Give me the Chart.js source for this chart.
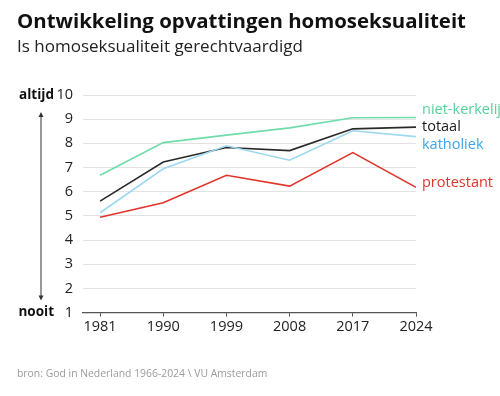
<!DOCTYPE html>
<html>
<head>
<meta charset="utf-8">
<script src="https://cdn.jsdelivr.net/npm/chart.js@4"></script>
<style>
  html, body { margin: 0; padding: 0; background: #fff; }
  #wrap { width: 500px; height: 396px; position: relative; }
</style>
</head>
<body>
<div id="wrap"><canvas id="chart"></canvas></div>
<script>
// data
const years = ['1981', '1990', '1999', '2008', '2017', '2024'];
const nietKerkelijk = [6.68, 8.03, 8.34, 8.64, 9.06, 9.07];
const totaal = [5.61, 7.23, 7.83, 7.70, 8.60, 8.67];
const katholiek = [5.13, 6.95, 7.90, 7.30, 8.52, 8.28];
const protestant = [4.94, 5.54, 6.68, 6.23, 7.62, 6.18];
const seriesNames = ['niet-kerkelijk', 'totaal', 'katholiek', 'protestant'];
const yTicks = [1, 2, 3, 4, 5, 6, 7, 8, 9, 10];

const FONT = '"Open Sans", "Noto Sans", sans-serif';

function points(arr) {
    return arr.map((v, i) => ({ x: i, y: v }));
}

// line colour, label colour, label shift (px)
const looks = [
    { line: '#6fdcaa', text: '#55d09b', dy: -8 },
    { line: '#2a2a2a', text: '#1a1a1a', dy: 0 },
    { line: '#9cd8f0', text: '#3ea6e6', dy: 8 },
    { line: '#e0352b', text: '#e0352b', dy: -4 }
];

const allSeries = [nietKerkelijk, totaal, katholiek, protestant];

const extras = {
    id: 'extras',
    afterDraw(chart) {
        const ctx = chart.ctx;
        const y = chart.scales.y;
        const area = chart.chartArea;
        ctx.save();
        ctx.textBaseline = 'middle';
        ctx.textAlign = 'left';

        // titles
        ctx.fillStyle = '#111';
        ctx.font = 'bold 20.4px ' + FONT;
        ctx.fillText('Ontwikkeling opvattingen homoseksualiteit', 17, 22);
        ctx.fillStyle = '#222';
        ctx.font = '17px ' + FONT;
        ctx.fillText('Is homoseksualiteit gerechtvaardigd', 17, 47);

        // footer
        ctx.fillStyle = '#9a9a9a';
        ctx.font = '10.4px ' + FONT;
        ctx.fillText('bron: God in Nederland 1966-2024 \\ VU Amsterdam', 17, 374);

        // series labels at the end of each line
        ctx.font = '14.5px ' + FONT;
        allSeries.forEach((arr, i) => {
            const last = arr[arr.length - 1];
            ctx.fillStyle = looks[i].text;
            ctx.fillText(seriesNames[i], area.right + 6, y.getPixelForValue(last) + looks[i].dy);
        });

        // altijd / nooit with arrow
        ctx.fillStyle = '#111';
        ctx.font = 'bold 13.5px ' + FONT;
        ctx.textAlign = 'right';
        ctx.fillText('altijd', 54, y.getPixelForValue(10));
        ctx.fillText('nooit', 54, y.getPixelForValue(1));

        const ax = 41;
        const top = y.getPixelForValue(9.3);
        const bot = y.getPixelForValue(1.5);
        ctx.strokeStyle = '#333';
        ctx.fillStyle = '#333';
        ctx.lineWidth = 1;
        ctx.beginPath();
        ctx.moveTo(ax, top + 2);
        ctx.lineTo(ax, bot - 2);
        ctx.stroke();
        ctx.beginPath();
        ctx.moveTo(ax, top);
        ctx.lineTo(ax - 2.5, top + 5);
        ctx.lineTo(ax + 2.5, top + 5);
        ctx.closePath();
        ctx.fill();
        ctx.beginPath();
        ctx.moveTo(ax, bot);
        ctx.lineTo(ax - 2.5, bot - 5);
        ctx.lineTo(ax + 2.5, bot - 5);
        ctx.closePath();
        ctx.fill();
        ctx.restore();
    }
};

const data = {
    datasets: allSeries.map((arr, i) => ({
        label: seriesNames[i],
        data: points(arr),
        borderColor: looks[i].line,
        borderWidth: 1.6,
        pointRadius: 0,
        tension: 0,
        fill: false
    })).reverse()
};

const config = {
    type: 'line',
    data: data,
    options: {
        responsive: true,
        maintainAspectRatio: false,
        animation: false,
        devicePixelRatio: 1,
        layout: {
            padding: { left: 23, right: 84, top: 95, bottom: 58 }
        },
        plugins: {
            legend: { display: false },
            tooltip: { enabled: false }
        },
        scales: {
            x: {
                type: 'linear',
                min: -0.27,
                max: years.length - 1,
                grid: {
                    drawOnChartArea: false,
                    drawTicks: true,
                    tickLength: 4,
                    color: '#555'
                },
                border: { display: true, color: '#555', width: 1.2 },
                ticks: {
                    stepSize: 1,
                    includeBounds: false,
                    autoSkip: false,
                    maxRotation: 0,
                    padding: 2,
                    color: '#222',
                    font: { family: FONT, size: 14.5 },
                    callback: (v) => Number.isInteger(v) ? years[v] : ''
                }
            },
            y: {
                min: 1,
                max: 10,
                afterFit(scale) { scale.width = 60; },
                afterBuildTicks(scale) {
                    scale.ticks = yTicks.map(v => ({ value: v }));
                },
                grid: {
                    drawTicks: false,
                    color: '#e2e2e2',
                    lineWidth: 1
                },
                border: { display: false },
                ticks: {
                    padding: 10,
                    color: '#222',
                    font: { family: FONT, size: 14.5 }
                }
            }
        }
    },
    plugins: [extras]
};

new Chart(document.getElementById('chart'), config);
</script>
</body>
</html>
